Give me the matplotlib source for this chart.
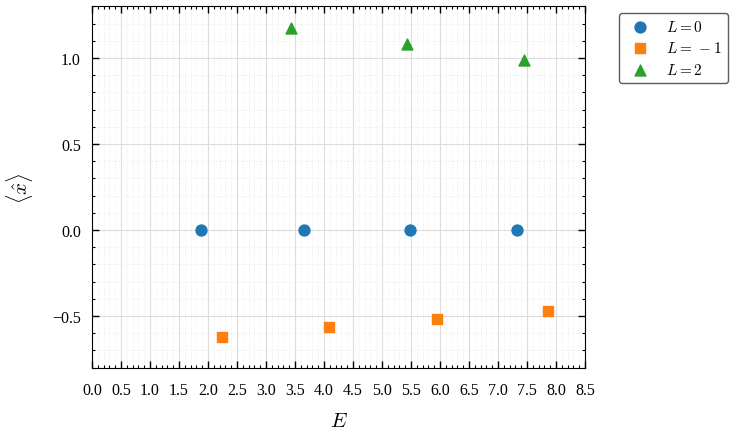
import numpy as np
import matplotlib
matplotlib.use("Agg")
import matplotlib.pyplot as plt
from matplotlib.ticker import MultipleLocator

plt.rcParams['font.family'] = 'serif'
plt.rcParams['font.serif'] = ['Liberation Serif', 'DejaVu Serif']
plt.rcParams['mathtext.fontset'] = 'cm'

# energies and expectation values per L
E_L0 = [1.879, 3.655, 5.483, 7.328]
x_L0 = [0.0, 0.0, 0.0, 0.0]
E_Lm1 = [2.241, 4.086, 5.948, 7.862]
x_Lm1 = [-0.622, -0.564, -0.517, -0.471]
E_L2 = [3.431, 5.431, 7.448]
x_L2 = [1.174, 1.081, 0.988]

fig = plt.figure(figsize=(7.36, 4.35), dpi=100)
ax = fig.add_axes([92/736, 1 - 369/435, (585-92)/736, (369-7)/435])

ax.scatter(E_L0, x_L0, marker='o', s=62, color='#1f77b4', label=r'$L = 0$', zorder=3)
ax.scatter(E_Lm1, x_Lm1, marker='s', s=58, color='#ff7f0e', label=r'$L = \,-1$', zorder=3)
ax.scatter(E_L2, x_L2, marker='^', s=62, color='#2ca02c', label=r'$L = 2$', zorder=3)

ax.set_xlim(0, 8.5)
ax.set_ylim(-0.802, 1.302)
ax.xaxis.set_major_locator(MultipleLocator(0.5))
ax.xaxis.set_minor_locator(MultipleLocator(0.1))
ax.yaxis.set_major_locator(MultipleLocator(0.5))
ax.yaxis.set_minor_locator(MultipleLocator(0.1))
ax.tick_params(which='both', direction='in', top=True, right=True, labelsize=11.5)
ax.tick_params(which='major', length=5, width=1)
ax.tick_params(which='minor', length=2.5, width=0.8)
ax.xaxis.set_tick_params(pad=10)
ax.yaxis.set_tick_params(pad=8)

ax.grid(which='major', color='#dddddd', linewidth=0.8)
ax.grid(which='minor', color='#e8e8e8', linestyle=':', linewidth=0.6)
ax.set_axisbelow(True)

ax.set_xlabel(r'$E$', fontsize=15, labelpad=10)
ax.set_ylabel(r'$\langle \hat{x} \rangle$', fontsize=15, labelpad=12)

leg = ax.legend(loc='upper left', bbox_to_anchor=(1.069, 0.981), borderaxespad=0,
                frameon=True, fontsize=11, labelspacing=0.42, handlelength=1.9,
                fancybox=True)
leg.get_frame().set_edgecolor('#333333')

fig.savefig('out.png', dpi=100)
